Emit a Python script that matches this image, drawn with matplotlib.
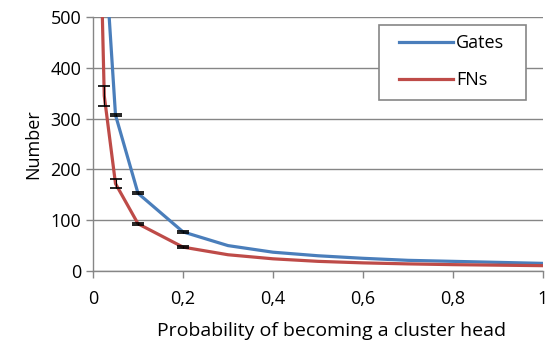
import matplotlib
matplotlib.use("Agg")
import matplotlib.pyplot as plt
from matplotlib.patches import Rectangle

prob = [0.01, 0.025, 0.05, 0.1, 0.2, 0.3, 0.4, 0.5, 0.6, 0.7, 0.8, 0.9, 1.0]
gates = [1600, 650, 307, 153, 77, 50, 37, 30, 25, 21, 19, 17, 15]
fns = [900, 345, 172, 93, 47, 32, 24, 19, 16, 14, 12.5, 11.5, 10.5]
gates_err = [0, 0, 2, 2, 2, 0, 0, 0, 0, 0, 0, 0, 0]
fns_err = [0, 20, 9, 2, 2, 0, 0, 0, 0, 0, 0, 0, 0]
xticks = [0, 0.2, 0.4, 0.6, 0.8, 1.0]
xticklabels = ["0", "0,2", "0,4", "0,6", "0,8", "1"]
yticks = [0, 100, 200, 300, 400, 500]

plt.rcParams['font.family'] = ['Open Sans', 'DejaVu Sans']
fig = plt.figure(figsize=(5.47, 3.43), dpi=100)
ax = fig.add_axes([93/547, 1-271/343, 450/547, 254/343])

grey = '#868686'
blue = '#4A7EBB'
red = '#BE4B48'

def draw_err(xs, ys, es):
    sel = [(x, y, e) for x, y, e in zip(xs, ys, es) if e > 0]
    ax.errorbar([s[0] for s in sel], [s[1] for s in sel], yerr=[s[2] for s in sel],
                fmt='none', ecolor='black', elinewidth=0.8, capsize=4, capthick=1.2, zorder=3)

draw_err(prob, gates, gates_err)
draw_err(prob, fns, fns_err)
ax.plot(prob, gates, color=blue, lw=2.3, label='Gates', zorder=2, solid_joinstyle='round')
ax.plot(prob, fns, color=red, lw=2.3, label='FNs', zorder=2, solid_joinstyle='round')

ax.set_xlim(0, 1)
ax.set_ylim(0, 500)
ax.set_xticks(xticks)
ax.set_xticklabels(xticklabels)
ax.set_yticks(yticks)
ax.yaxis.grid(True, color=grey, lw=1)
ax.set_axisbelow(True)
for s in ['top', 'right']:
    ax.spines[s].set_visible(False)
for s in ['left', 'bottom']:
    ax.spines[s].set_color(grey)
    ax.spines[s].set_linewidth(1)
ax.tick_params(axis='both', colors=grey, labelcolor='black', labelsize=13, length=5, width=1)
ax.tick_params(axis='x', pad=9)
ax.set_xlabel('Probability of becoming a cluster head', fontsize=14)
ax.xaxis.set_label_coords(0.53, -0.2)
ax.set_ylabel('Number', fontsize=13, labelpad=6)

# legend frame
ax.add_patch(Rectangle(((379-93)/450, (271-100)/254), 147/450, 75/254,
                       transform=ax.transAxes, facecolor='white', edgecolor=grey,
                       lw=1.2, zorder=4, clip_on=False))
leg = ax.legend(loc='upper left', bbox_to_anchor=((399-93)/450, (271-34)/254), borderaxespad=0,
                fontsize=13, frameon=False, handlelength=3.0, borderpad=0,
                labelspacing=1.05, handletextpad=0.15)
leg.set_zorder(5)

fig.savefig('out.png', dpi=100)
